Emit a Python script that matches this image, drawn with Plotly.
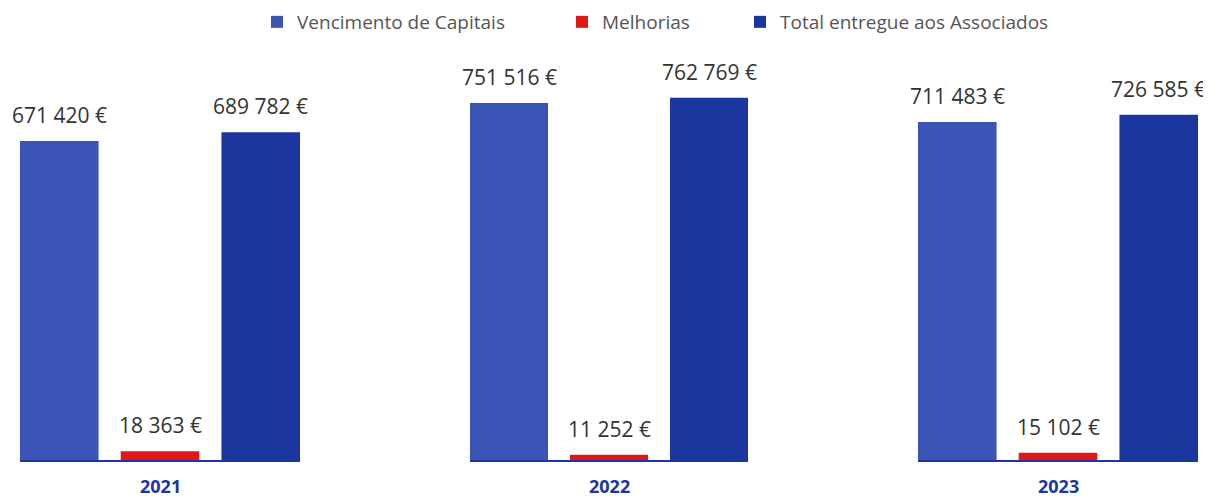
import plotly.graph_objects as go
from plotly.subplots import make_subplots

years = ["2021", "2022", "2023"]
series = ["Vencimento de Capitais", "Melhorias", "Total entregue aos Associados"]
vencimento = [671420, 751516, 711483]
melhorias = [18363, 11252, 15102]
total = [689782, 762769, 726585]
colors = ["#3b55b6", "#e01818", "#1c36a0"]

W, H = 1203, 492  # page has an 8px body margin

def fmt(v):
    return f"{v:,}".replace(",", " ") + " €"

domains = [[12 / W, 292 / W], [462 / W, 740 / W], [910 / W, 1190 / W]]
legend_names = ["legend", "legend2", "legend3"]
legend_x = [249 / W, 554 / W, 732 / W]

fig = make_subplots(rows=1, cols=3, horizontal_spacing=0.05)

for i, year in enumerate(years):
    values = [vencimento[i], melhorias[i], total[i]]
    xr = "x" if i == 0 else f"x{i + 1}"
    yr = "y" if i == 0 else f"y{i + 1}"
    for j, name in enumerate(series):
        fig.add_trace(go.Bar(
            x=[j], y=[values[j]],
            name=name,
            marker=dict(color=colors[j], line=dict(width=0)),
            width=0.78,
            showlegend=(i == 0),
            legend=legend_names[j],
            hoverinfo="skip",
        ), row=1, col=i + 1)
        fig.add_annotation(
            x=j, y=values[j], text=fmt(values[j]),
            xref=xr, yref=yr,
            yanchor="bottom", yshift=10, showarrow=False,
            font=dict(family="Open Sans", size=21, color="#333333"),
        )
    # year label under each group
    fig.add_annotation(
        x=0.5, y=-0.066, xref=f"{xr} domain", yref="paper",
        text=f"<b>{year}</b>", showarrow=False, yanchor="middle",
        font=dict(family="Open Sans", size=18, color="#1c36a0"),
    )
    fig.update_xaxes(domain=domains[i], range=[-0.39, 2.39], showticklabels=False,
                     showgrid=False, zeroline=False, showline=True,
                     linecolor="#1c36a0", linewidth=2, row=1, col=i + 1)
    fig.update_yaxes(range=[0, 842000], visible=False, showgrid=False, row=1, col=i + 1)

legend_style = dict(orientation="h", xref="container", yref="container",
                    y=1 - 14 / H, yanchor="middle", xanchor="left",
                    font=dict(family="Open Sans", size=19, color="#555555"),
                    itemwidth=30, bgcolor="rgba(0,0,0,0)")

fig.update_layout(
    width=W, height=H,
    margin=dict(l=0, r=0, t=52, b=40),
    barmode="overlay",
    paper_bgcolor="white", plot_bgcolor="white",
    font=dict(family="Open Sans", color="#555555"),
    legend=dict(x=legend_x[0], **legend_style),
    legend2=dict(x=legend_x[1], **legend_style),
    legend3=dict(x=legend_x[2], **legend_style),
)

fig.write_html("out.html")
